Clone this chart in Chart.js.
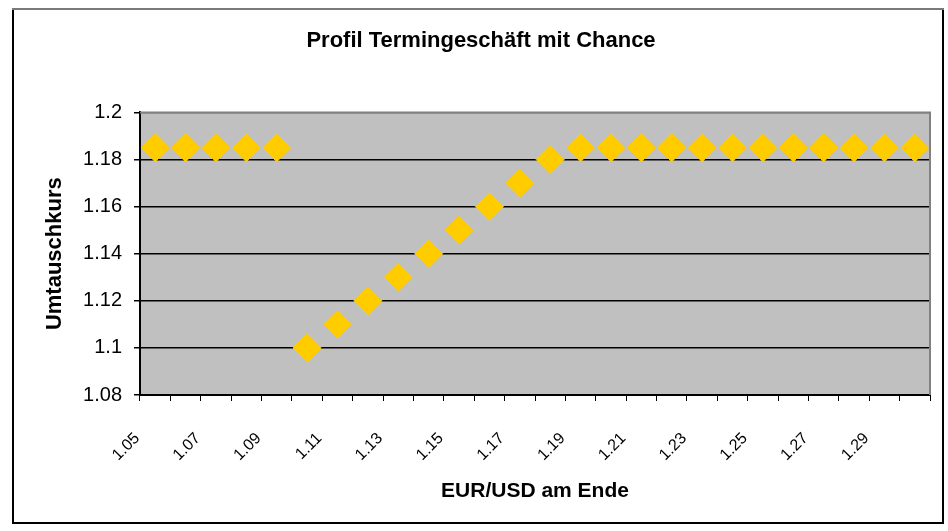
<!DOCTYPE html>
<html>
<head>
<meta charset="utf-8">
<script src="https://cdn.jsdelivr.net/npm/chart.js@4/dist/chart.umd.min.js"></script>
<style>
  html, body { margin: 0; padding: 0; background: #ffffff; }
  canvas { display: block; }
</style>
</head>
<body>
<canvas id="c" width="948" height="531"></canvas>
<script>
// ---- data ----
const categories = ['1.05','1.06','1.07','1.08','1.09','1.10','1.11','1.12','1.13','1.14','1.15','1.16','1.17',
                    '1.18','1.19','1.20','1.21','1.22','1.23','1.24','1.25','1.26','1.27','1.28','1.29','1.30'];
const exchangeRate = [1.185, 1.185, 1.185, 1.185, 1.185,
                      1.10, 1.11, 1.12, 1.13, 1.14, 1.15, 1.16, 1.17, 1.18,
                      1.185, 1.185, 1.185, 1.185, 1.185, 1.185, 1.185, 1.185, 1.185, 1.185, 1.185, 1.185];
const yMin = 1.08, yMax = 1.2, yStep = 0.02;
const titleText = 'Profil Termingeschäft mit Chance';
const xTitle = 'EUR/USD am Ende';
const yTitle = 'Umtauschkurs';

const FONT = 'Arial, "Liberation Sans", Helvetica, sans-serif';

const framePlugin = {
  id: 'frame',
  beforeDraw(chart) {
    const { ctx, chartArea: a } = chart;
    ctx.save();
    ctx.fillStyle = '#C0C0C0';
    ctx.fillRect(a.left, a.top, a.right - a.left, a.bottom - a.top);
    ctx.restore();
  },
  afterDatasetsDraw(chart) {
    const { ctx, chartArea: a } = chart;
    ctx.save();
    ctx.strokeStyle = '#808080';
    ctx.lineWidth = 2;
    ctx.beginPath();
    ctx.moveTo(a.left, a.top);
    ctx.lineTo(a.right, a.top);
    ctx.lineTo(a.right, a.bottom);
    ctx.stroke();
    ctx.restore();
  },
  afterDraw(chart) {
    const { ctx } = chart;
    ctx.save();
    ctx.lineWidth = 2;
    ctx.strokeStyle = '#000000';
    ctx.beginPath();
    ctx.moveTo(943, 9);
    ctx.lineTo(943, 523);
    ctx.lineTo(13, 523);
    ctx.lineTo(13, 9);
    ctx.stroke();
    ctx.strokeStyle = '#7a7a7a';
    ctx.beginPath();
    ctx.moveTo(12, 9);
    ctx.lineTo(944, 9);
    ctx.stroke();
    ctx.restore();
  }
};

new Chart(document.getElementById('c'), {
  type: 'line',
  data: {
    labels: categories,
    datasets: [{
      data: exchangeRate,
      showLine: false,
      pointStyle: 'rectRot',
      pointRadius: 14,
      pointHoverRadius: 14,
      pointBackgroundColor: '#FFCC00',
      pointBorderColor: '#FFCC00',
      pointBorderWidth: 1
    }]
  },
  options: {
    responsive: false,
    animation: false,
    events: [],
    layout: { padding: { left: 32, right: 18, top: 0, bottom: 8 } },
    plugins: {
      legend: { display: false },
      tooltip: { enabled: false },
      title: {
        display: true,
        text: titleText,
        color: '#000000',
        font: { family: FONT, size: 22, weight: 'bold' },
        padding: { top: 28, bottom: 58 }
      }
    },
    scales: {
      x: {
        type: 'category',
        offset: true,
        afterFit(scale) {
          scale.height = 128;
          scale.paddingLeft = 0;
          scale.paddingRight = 0;
        },
        grid: {
          display: true,
          offset: true,
          drawOnChartArea: false,
          drawTicks: true,
          tickLength: 6,
          color: '#000000',
          lineWidth: 1
        },
        border: { display: true, color: '#000000', width: 2 },
        ticks: {
          autoSkip: false,
          minRotation: 45,
          maxRotation: 45,
          padding: 28,
          labelOffset: -18,
          color: '#000000',
          font: { family: FONT, size: 16 },
          callback(value, index) { return index % 2 === 0 ? categories[index] : ''; }
        },
        title: {
          display: true,
          text: xTitle,
          color: '#000000',
          font: { family: FONT, size: 21, weight: 'bold' },
          padding: { top: 0, bottom: 19 }
        }
      },
      y: {
        min: yMin,
        max: yMax,
        afterFit(scale) { scale.width = 108; },
        grid: {
          color: (c) => (c.tick && Math.abs(c.tick.value - yMax) < 1e-9) ? '#808080' : '#000000',
          tickColor: '#000000',
          lineWidth: 1.5,
          drawTicks: true,
          tickLength: 6
        },
        border: { display: true, color: '#000000', width: 2 },
        ticks: {
          stepSize: yStep,
          padding: 12,
          color: '#000000',
          font: { family: FONT, size: 20 },
          callback(value) { return String(Number(value.toFixed(2))); }
        },
        title: {
          display: true,
          text: yTitle,
          color: '#000000',
          font: { family: FONT, size: 22, weight: 'bold' },
          padding: { top: 10, bottom: 0 }
        }
      }
    }
  },
  plugins: [framePlugin]
});
</script>
</body>
</html>
